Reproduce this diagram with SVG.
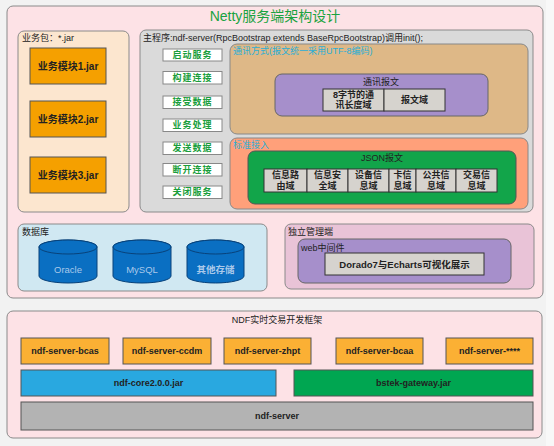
<svg xmlns="http://www.w3.org/2000/svg" width="554" height="446" viewBox="0 0 554 446">
<style>
text{font-family:"Liberation Sans","Noto Sans CJK SC",sans-serif;dominant-baseline:central}
.panel{stroke:#8a8a8a;stroke-width:1}
.t9{font-size:9px;fill:#222}
.b{font-weight:bold}
.mid{text-anchor:middle}
.step rect{fill:#fff;stroke:#888;stroke-width:1}
.step text{font-size:9px;font-weight:bold;fill:#1a9e3c;text-anchor:middle;letter-spacing:1px}
.fld{fill:#d6d3ce;stroke:#333;stroke-width:1}
.fldt{font-size:9px;font-weight:bold;fill:#222;text-anchor:middle}
.cyl{fill:#0a6fc2;stroke:#08427a;stroke-width:1}
.cylt{font-size:9.5px;fill:#a9c9ea;text-anchor:middle}
.mod{stroke:#555;stroke-width:1}
.modt{font-size:9px;font-weight:bold;fill:#222;text-anchor:middle}
.cyan{font-size:9px;fill:#2aaed6}
</style>
<rect width="554" height="446" fill="#f2f2f2"/>
<rect x="546" y="0" width="8" height="446" fill="#f8f8f8"/>

<g id="netty-arch">
<rect class="panel" x="7" y="6" width="536" height="292" rx="6" fill="#fde2e6"/>
<text x="275" y="16" class="mid" font-size="14" fill="#1aa340">Netty服务端架构设计</text>
</g>

<g id="biz-pkg">
<rect class="panel" x="18" y="31" width="111" height="181" rx="6" fill="#fce6cf"/>
<text x="22" y="38" class="t9">业务包：*.jar</text>
</g>
<g id="jar1">
<rect x="30" y="48" width="76" height="36" fill="#f5a000" stroke="#555"/>
<text x="68" y="66" class="mid b" font-size="10" fill="#222">业务模块1.jar</text>
</g>
<g id="jar2">
<rect x="30" y="101" width="76" height="36" fill="#f5a000" stroke="#555"/>
<text x="68" y="119" class="mid b" font-size="10" fill="#222">业务模块2.jar</text>
</g>
<g id="jar3">
<rect x="30" y="157" width="76" height="36" fill="#f5a000" stroke="#555"/>
<text x="68" y="175" class="mid b" font-size="10" fill="#222">业务模块3.jar</text>
</g>

<g id="main-program">
<rect class="panel" x="140" y="30" width="393" height="182" rx="6" fill="#dadada"/>
<text x="143" y="38" class="t9">主程序:ndf-server(RpcBootstrap extends BaseRpcBootstrap)调用init();</text>
</g>
<g id="steps">
<g class="step" id="s1"><rect x="163" y="49" width="59" height="12"/><text x="192.5" y="55">启动服务</text></g>
<g class="step" id="s2"><rect x="163" y="71.5" width="59" height="12.5"/><text x="192.5" y="77.7">构建连接</text></g>
<g class="step" id="s3"><rect x="163" y="96" width="59" height="12.5"/><text x="192.5" y="102.2">接受数据</text></g>
<g class="step" id="s4"><rect x="163" y="119" width="59" height="12.5"/><text x="192.5" y="125.2">业务处理</text></g>
<g class="step" id="s5"><rect x="163" y="142" width="59" height="12.5"/><text x="192.5" y="148.2">发送数据</text></g>
<g class="step" id="s6"><rect x="163" y="163.5" width="59" height="12.5"/><text x="192.5" y="169.7">断开连接</text></g>
<g class="step" id="s7"><rect x="163" y="186" width="59" height="12.5"/><text x="192.5" y="192.2">关闭服务</text></g>
</g>

<g id="comm-mode">
<rect x="230" y="44" width="298" height="90" rx="7" fill="#deb887" stroke="#888"/>
<text x="233" y="51" class="cyan">通讯方式(报文统一采用UTF-8编码)</text>
</g>
<g id="comm-msg">
<rect x="275" y="74" width="213" height="42" rx="7" fill="#a68fcb" stroke="#666"/>
<text x="381" y="82" class="t9 mid">通讯报文</text>
<rect class="fld" x="323" y="89" width="61" height="22"/>
<text x="353.5" y="95" class="fldt">8字节的通</text>
<text x="353.5" y="105" class="fldt">讯长度域</text>
<rect class="fld" x="384" y="89" width="61" height="22"/>
<text x="414.5" y="100" class="fldt">报文域</text>
</g>

<g id="std-access">
<rect x="230" y="138" width="298" height="71" rx="7" fill="#ffa07a" stroke="#888"/>
<text x="233" y="145" class="cyan">标准接入</text>
</g>
<g id="json-msg">
<rect x="248" y="151" width="268" height="53" rx="7" fill="#12a54a" stroke="#555"/>
<text x="382" y="158" class="t9 mid">JSON报文</text>
<rect class="fld" x="264" y="169" width="43" height="23"/>
<text x="285.5" y="175" class="fldt">信息路</text><text x="285.5" y="186" class="fldt">由域</text>
<rect class="fld" x="307" y="169" width="41" height="23"/>
<text x="327.5" y="175" class="fldt">信息安</text><text x="327.5" y="186" class="fldt">全域</text>
<rect class="fld" x="348" y="169" width="41" height="23"/>
<text x="368.5" y="175" class="fldt">设备信</text><text x="368.5" y="186" class="fldt">息域</text>
<rect class="fld" x="389" y="169" width="27" height="23"/>
<text x="402.5" y="175" class="fldt">卡信</text><text x="402.5" y="186" class="fldt">息域</text>
<rect class="fld" x="416" y="169" width="40" height="23"/>
<text x="436" y="175" class="fldt">公共信</text><text x="436" y="186" class="fldt">息域</text>
<rect class="fld" x="456" y="169" width="41" height="23"/>
<text x="476.5" y="175" class="fldt">交易信</text><text x="476.5" y="186" class="fldt">息域</text>
</g>

<g id="database">
<rect class="panel" x="18" y="224" width="249" height="67" rx="6" fill="#d0e8f2"/>
<text x="22" y="232" class="t9">数据库</text>
</g>
<g id="oracle">
<path class="cyl" d="M39,247 A29,7 0 0 1 97,247 L97,276 A29,7 0 0 1 39,276 Z"/>
<ellipse class="cyl" cx="68" cy="247" rx="29" ry="7"/>
<text x="68" y="269" class="cylt">Oracle</text>
</g>
<g id="mysql">
<path class="cyl" d="M113,247 A29,7 0 0 1 171,247 L171,276 A29,7 0 0 1 113,276 Z"/>
<ellipse class="cyl" cx="142" cy="247" rx="29" ry="7"/>
<text x="142" y="269" class="cylt">MySQL</text>
</g>
<g id="other-storage">
<path class="cyl" d="M187,247 A28.5,7 0 0 1 244,247 L244,276 A28.5,7 0 0 1 187,276 Z"/>
<ellipse class="cyl" cx="215.5" cy="247" rx="28.5" ry="7"/>
<text x="215.5" y="269" class="cylt b">其他存储</text>
</g>

<g id="admin">
<rect class="panel" x="285" y="224" width="249" height="65" rx="6" fill="#e9c3d7"/>
<text x="288" y="232" class="t9">独立管理端</text>
</g>
<g id="web-mid">
<rect x="298" y="239" width="213" height="44" rx="7" fill="#a68fcb" stroke="#666"/>
<text x="301" y="248" class="t9">web中间件</text>
</g>
<g id="dorado">
<rect class="fld" x="325" y="253" width="159" height="22"/>
<text x="404.5" y="264" class="mid b" font-size="9.5" fill="#222">Dorado7与Echarts可视化展示</text>
</g>

<g id="ndf-framework">
<rect class="panel" x="7" y="311" width="535" height="127" rx="6" fill="#fde2e6"/>
<text x="277" y="320" class="t9 mid" fill="#333">NDF实时交易开发框架</text>
</g>
<g id="m-bcas"><rect class="mod" x="21" y="338" width="88" height="26" fill="#fbb034"/><text x="65" y="351" class="modt">ndf-server-bcas</text></g>
<g id="m-ccdm"><rect class="mod" x="123" y="338" width="88" height="26" fill="#fbb034"/><text x="167" y="351" class="modt">ndf-server-ccdm</text></g>
<g id="m-zhpt"><rect class="mod" x="224" y="338" width="87" height="26" fill="#fbb034"/><text x="267.5" y="351" class="modt">ndf-server-zhpt</text></g>
<g id="m-bcaa"><rect class="mod" x="336" y="338" width="87" height="26" fill="#fbb034"/><text x="379.5" y="351" class="modt">ndf-server-bcaa</text></g>
<g id="m-more"><rect class="mod" x="446" y="338" width="87" height="26" fill="#fbb034"/><text x="489.5" y="351" class="modt">ndf-server-****</text></g>
<g id="core"><rect class="mod" x="21" y="370" width="255" height="26" fill="#29a8e0"/><text x="148.5" y="383" class="modt">ndf-core2.0.0.jar</text></g>
<g id="gateway"><rect class="mod" x="294" y="370" width="239" height="26" fill="#00a651"/><text x="413.5" y="383" class="modt">bstek-gateway.jar</text></g>
<g id="ndf-server"><rect class="mod" x="21" y="402" width="512" height="28" fill="#b3b3b3"/><text x="277" y="416" class="modt">ndf-server</text></g>

<g id="connectors"></g>
</svg>
